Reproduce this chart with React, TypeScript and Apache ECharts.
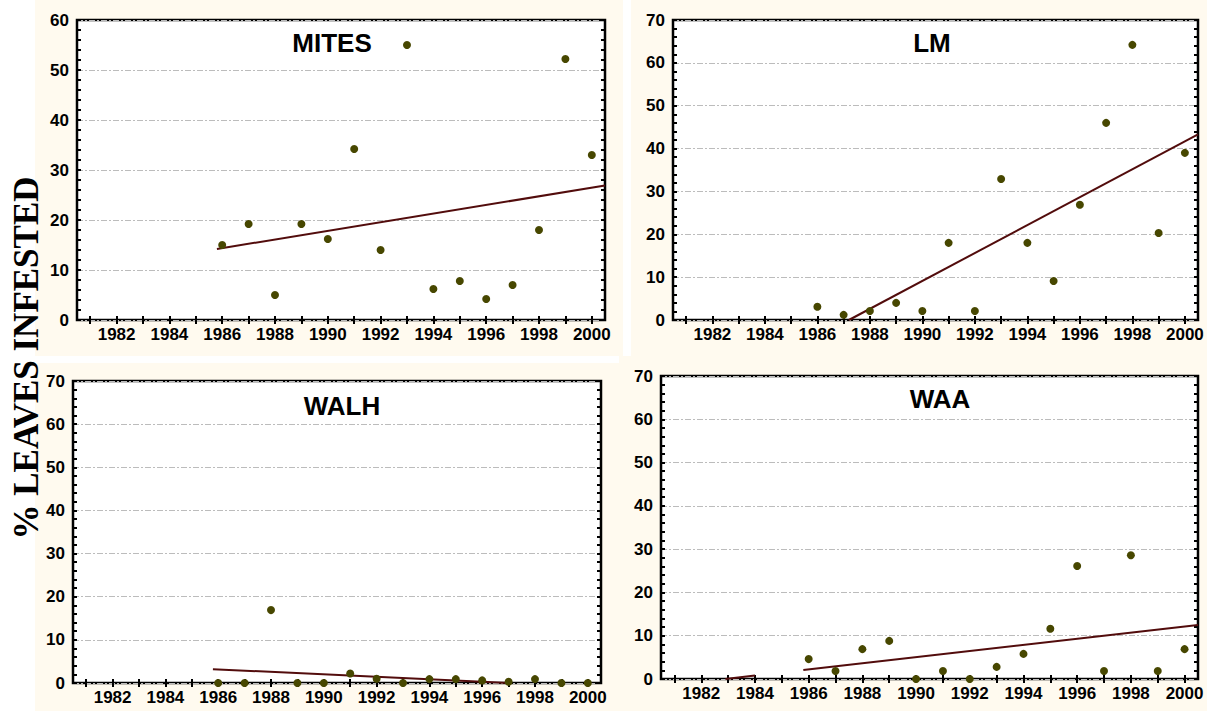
import React, { useEffect, useRef } from "react";
import * as echarts from "echarts";

// ---------- data ----------
const years = [1986, 1987, 1988, 1989, 1990, 1991, 1992, 1993, 1994, 1995, 1996, 1997, 1998, 1999, 2000];
const mites = [15.0, 19.2, 5.0, 19.2, 16.2, 34.2, 14.0, 55.0, 6.2, 7.8, 4.2, 7.0, 18.0, 52.2, 33.0];
const lm = [3.1, 1.2, 2.1, 4.0, 2.1, 18.0, 2.1, 32.9, 18.0, 9.1, 26.9, 46.0, 64.2, 20.3, 39.0];
const walh = [0, 0, 16.9, 0, 0, 2.2, 1.0, 0, 0.9, 0.9, 0.6, 0.3, 0.9, 0, 0];
const waa = [4.6, 1.85, 6.9, 8.8, 0, 1.85, 0, 2.8, 5.8, 11.6, 26.1, 1.85, 28.6, 1.85, 6.9];

const trendMites = [[1985.8, 14.2], [2000.5, 26.9]];
const trendLm = [[1987.2, 0], [2000.5, 43.3]];
const trendWalh = [[1985.8, 3.2], [1997.0, 0]];
const trendWaa = [[1985.8, 2.1], [2000.5, 12.5]];
const fragmentWaa = [[1982.9, 0], [1984.0, 0.8]];

const panelTitles = ["MITES", "LM", "WALH", "WAA"];
const yMaxes = [60, 70, 70, 70];
const xLabelYears = [1982, 1984, 1986, 1988, 1990, 1992, 1994, 1996, 1998, 2000];
const xTickYears = [1981, 1982, 1983, 1984, 1985, 1986, 1987, 1988, 1989, 1990, 1991, 1992, 1993, 1994, 1995, 1996, 1997, 1998, 1999, 2000];
const yAxisTitle = "% LEAVES INFESTED";

// ---------- layout / style ----------
const GRIDS = [
  { left: 77, top: 20, width: 528, height: 300 },
  { left: 673, top: 20, width: 525, height: 300 },
  { left: 73, top: 381, width: 528, height: 302 },
  { left: 661, top: 376, width: 537, height: 303 },
];
const CREAM = [
  { x: 35, y: 0, width: 588, height: 356 },
  { x: 631, y: 0, width: 576, height: 362 },
  { x: 35, y: 363, width: 590, height: 348 },
  { x: 619, y: 356, width: 588, height: 355 },
];
const TITLE_POS = [
  [332, 43],
  [932, 43],
  [342, 406],
  [940, 399],
];
const SANS = "Liberation Sans";
const CREAM_COLOR = "#fffaef";
const DOT = "#474700";
const TREND = "#520c0c";
const GRIDLINE = "#bcbcbc";

export default function App() {
  const ref = useRef<HTMLDivElement>(null);

  useEffect(() => {
    if (!ref.current) return;
    const chart = echarts.init(ref.current, undefined, { renderer: "svg" });

    const values = [mites, lm, walh, waa];
    const trends = [trendMites, trendLm, trendWalh, trendWaa];

    const tickLine = { color: "#000", width: 2 };

    const xAxis: any[] = [];
    const yAxis: any[] = [];
    const series: any[] = [];

    GRIDS.forEach((_, i) => {
      const base = {
        type: "value",
        gridIndex: i,
        min: 1980.5,
        max: 2000.5,
        axisLine: { show: false },
        splitLine: { show: false },
      };
      xAxis.push({
        ...base,
        position: "bottom",
        axisTick: { show: true, inside: true, length: 4, customValues: xTickYears, lineStyle: tickLine },
        axisLabel: {
          show: true,
          color: "#000",
          fontWeight: "bold",
          fontSize: 17,
          fontFamily: SANS,
          margin: 6,
          customValues: xLabelYears,
          formatter: (v: number) => String(v),
        },
      });
      xAxis.push({
        ...base,
        position: "top",
        axisTick: { show: true, inside: true, length: 4, customValues: xTickYears, lineStyle: tickLine },
        axisLabel: { show: false },
      });
      const ybase = {
        type: "value",
        gridIndex: i,
        min: 0,
        max: yMaxes[i],
        interval: 10,
        axisLine: { show: false },
        axisTick: { show: true, inside: true, length: 4, lineStyle: tickLine },
        minorTick: { show: true, splitNumber: 5, length: 4, lineStyle: tickLine },
      };
      yAxis.push({
        ...ybase,
        position: "left",
        axisLabel: {
          show: true,
          color: "#000",
          fontWeight: "bold",
          fontSize: 17,
          fontFamily: SANS,
          margin: 8,
        },
        splitLine: { show: true, lineStyle: { color: GRIDLINE, width: 1, type: [6, 2, 2, 2] } },
      });
      yAxis.push({
        ...ybase,
        position: "right",
        axisLabel: { show: false },
        splitLine: { show: false },
      });

      series.push({
        type: "line",
        xAxisIndex: i * 2,
        yAxisIndex: i * 2,
        data: trends[i],
        symbol: "none",
        lineStyle: { color: TREND, width: 2 },
        z: 3,
      });
      series.push({
        type: "scatter",
        xAxisIndex: i * 2,
        yAxisIndex: i * 2,
        data: years.map((yr, k) => [yr, values[i][k]]),
        symbolSize: 8,
        itemStyle: { color: DOT, opacity: 1 },
        z: 4,
      });
    });

    series.push({
      type: "line",
      xAxisIndex: 6,
      yAxisIndex: 6,
      data: fragmentWaa,
      symbol: "none",
      lineStyle: { color: TREND, width: 2 },
      z: 3,
    });

    const graphic: any[] = [];
    CREAM.forEach((c) => {
      graphic.push({
        type: "rect",
        z: -10,
        silent: true,
        shape: { x: c.x, y: c.y, width: c.width, height: c.height },
        style: { fill: CREAM_COLOR },
      });
    });
    panelTitles.forEach((t, i) => {
      graphic.push({
        type: "text",
        z: 20,
        x: TITLE_POS[i][0],
        y: TITLE_POS[i][1],
        style: {
          text: t,
          font: `bold 26px '${SANS}', Arial, sans-serif`,
          fill: "#000",
          textAlign: "center",
          textVerticalAlign: "middle",
        },
      });
    });
    graphic.push({
      type: "text",
      z: 20,
      x: 26,
      y: 358,
      rotation: Math.PI / 2,
      style: {
        text: yAxisTitle,
        font: "bold 35px 'Liberation Serif', 'Times New Roman', serif",
        fill: "#000",
        textAlign: "center",
        textVerticalAlign: "middle",
      },
    });

    chart.setOption({
      animation: false,
      backgroundColor: "#ffffff",
      grid: GRIDS.map((g) => ({
        ...g,
        show: true,
        backgroundColor: "#ffffff",
        borderColor: "#000000",
        borderWidth: 2.5,
        containLabel: false,
      })),
      xAxis,
      yAxis,
      series,
      graphic,
    });

    return () => chart.dispose();
  }, []);

  return (
    <div
      ref={ref}
      style={{ position: "fixed", left: 0, top: 0, width: 1207, height: 711 }}
    />
  );
}
